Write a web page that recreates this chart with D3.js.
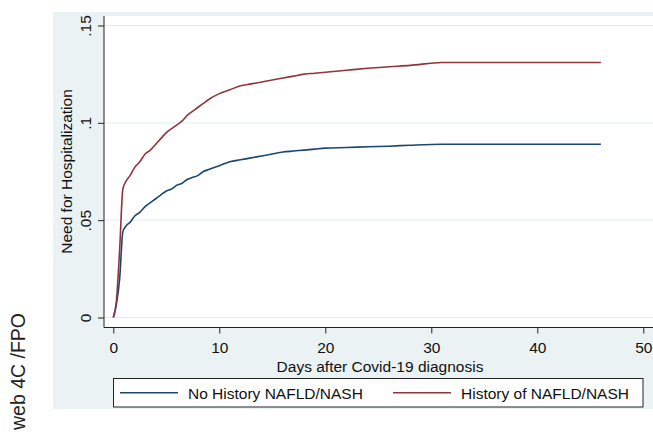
<!DOCTYPE html>
<html>
<head>
<meta charset="utf-8">
<script src="https://cdn.jsdelivr.net/npm/d3@7"></script>
<style>
  body { margin: 0; background: #fff; }
  svg { display: block; font-family: "Liberation Sans", Arial, sans-serif; }
</style>
</head>
<body>
<svg id="chart"></svg>
<script>
var width = 653;
var height = 435;

// days after diagnosis
var days = [0, 0.3, 0.6, 0.9, 1.2, 1.6, 2, 2.5, 3, 3.5, 4, 4.5, 5, 5.5, 6, 6.5, 7, 7.5, 8, 8.5, 9,
  10, 11, 12, 13, 14, 15, 16, 17, 18, 19, 20, 22, 24, 26, 28, 31, 46];
// No History NAFLD/NASH
var noHistoryVals = [0, 0.007, 0.02, 0.044, 0.047, 0.049, 0.052, 0.054, 0.057, 0.059, 0.061, 0.063, 0.065,
  0.066, 0.068, 0.069, 0.071, 0.072, 0.073, 0.075, 0.076, 0.078, 0.080, 0.081, 0.082, 0.083, 0.084,
  0.085, 0.0855, 0.086, 0.0865, 0.087, 0.0873, 0.0877, 0.088, 0.0885, 0.089, 0.089];
// History of NAFLD/NASH
var historyVals = [0, 0.009, 0.035, 0.066, 0.070, 0.073, 0.077, 0.080, 0.084, 0.086, 0.089, 0.092, 0.095,
  0.097, 0.099, 0.101, 0.104, 0.106, 0.108, 0.110, 0.112, 0.115, 0.117, 0.119, 0.120, 0.121, 0.122,
  0.123, 0.124, 0.125, 0.1255, 0.126, 0.127, 0.128, 0.1288, 0.1295, 0.131, 0.131];

var xTicks = [0, 10, 20, 30, 40, 50];
var yTicks = [0, 0.05, 0.1, 0.15];
var yTickLabels = ["0", ".05", ".1", ".15"];
var seriesNames = ["No History NAFLD/NASH", "History of NAFLD/NASH"];
var seriesColors = ["#1a476f", "#90353b"];

var fs = "15.5px";

var x = d3.scaleLinear().domain([0, 50]).range([113.3, 643.3]);
var y = d3.scaleLinear().domain([0, 0.15]).range([317.5, 25.5]);

var svg = d3.select("#chart").attr("width", width).attr("height", height);

// outer graph region
svg.append("rect").attr("x", 53).attr("y", 12).attr("width", width - 53).attr("height", 397)
  .attr("fill", "#eaf2f3");
// plot region
svg.append("rect").attr("x", 104).attr("y", 16).attr("width", width - 104).attr("height", 311)
  .attr("fill", "#ffffff");

// gridlines
svg.append("g").selectAll("line").data(yTicks).enter().append("line")
  .attr("x1", 104).attr("x2", width)
  .attr("y1", function (d) { return y(d); }).attr("y2", function (d) { return y(d); })
  .attr("stroke", "#e4ecee").attr("stroke-width", 1);

// y axis
var yAxis = d3.axisLeft(y).tickValues(yTicks).tickSize(6)
  .tickFormat(function (d, i) { return yTickLabels[i]; });
var gy = svg.append("g").attr("transform", "translate(104,0)").call(yAxis);
gy.select(".domain").attr("d", "M0,16V327.5").attr("stroke", "#222");
gy.selectAll(".tick line").attr("stroke", "#222");
gy.selectAll(".tick text")
  .attr("x", 0).attr("y", 0).attr("dy", 0)
  .attr("transform", "translate(-13,0) rotate(-90)")
  .attr("text-anchor", "middle")
  .style("font-size", fs).style("font-family", "Liberation Sans, Arial, sans-serif")
  .attr("fill", "#111");

// x axis
var xAxis = d3.axisBottom(x).tickValues(xTicks).tickSize(6);
var gx = svg.append("g").attr("transform", "translate(0,327.5)").call(xAxis);
gx.select(".domain").attr("d", "M104,0H" + width).attr("stroke", "#222");
gx.selectAll(".tick line").attr("stroke", "#222");
gx.selectAll(".tick text")
  .attr("y", 25).attr("dy", 0)
  .style("font-size", fs).style("font-family", "Liberation Sans, Arial, sans-serif")
  .attr("fill", "#111");

// axis titles
svg.append("text")
  .attr("x", 380).attr("y", 372)
  .attr("text-anchor", "middle")
  .style("font-size", fs).attr("fill", "#111")
  .text("Days after Covid-19 diagnosis");

svg.append("text")
  .attr("transform", "translate(72," + y(0.075) + ") rotate(-90)")
  .attr("text-anchor", "middle")
  .style("font-size", fs).attr("fill", "#111")
  .text("Need for Hospitalization");

// lines
var line = d3.line()
  .x(function (d) { return x(d[0]); })
  .y(function (d) { return y(d[1]); })
  .curve(d3.curveMonotoneX);

[noHistoryVals, historyVals].forEach(function (vals, k) {
  svg.append("path")
    .datum(days.map(function (d, i) { return [d, vals[i]]; }))
    .attr("d", line)
    .attr("fill", "none")
    .attr("stroke", seriesColors[k])
    .attr("stroke-width", 1.6);
});

// legend
svg.append("rect").attr("x", 113.5).attr("y", 378.5).attr("width", 529.5).attr("height", 28.5)
  .attr("fill", "#fff").attr("stroke", "#222").attr("stroke-width", 1);
var legX = [120, 393];
seriesNames.forEach(function (name, k) {
  svg.append("line")
    .attr("x1", legX[k]).attr("x2", legX[k] + 58)
    .attr("y1", 392.7).attr("y2", 392.7)
    .attr("stroke", seriesColors[k]).attr("stroke-width", 1.6);
  svg.append("text")
    .attr("x", legX[k] + 68).attr("y", 398.5)
    .style("font-size", fs).attr("fill", "#111")
    .text(name);
});

// side label
svg.append("text")
  .attr("transform", "translate(25,313) rotate(-90)")
  .attr("text-anchor", "end")
  .style("font-size", "19.5px").attr("fill", "#222")
  .text("web 4C /FPO");
</script>
</body>
</html>
